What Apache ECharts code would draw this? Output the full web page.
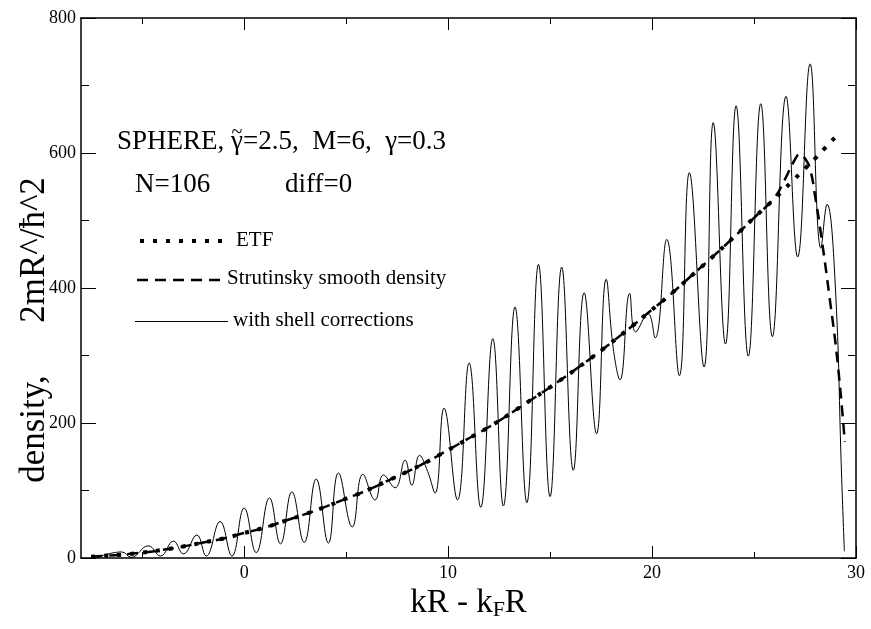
<!DOCTYPE html>
<html>
<head>
<meta charset="utf-8">
<script src="https://cdn.jsdelivr.net/npm/echarts@6/dist/echarts.min.js"></script>
<style>html,body{margin:0;padding:0;background:#fff}#c{width:871px;height:629px}</style>
</head>
<body>
<div id="c"></div>
<script>
// ---- data ----
var xMajorTicks = [0, 10, 20, 30];
var xMinorTicks = [-5, 5, 15, 25];
var yTickLabels = [0, 200, 400, 600, 800];

// ETF (smooth Thomas-Fermi) density
var etfX = [-7.5,-7,-6,-5,-4,-3,-2,-1,0,1,2,3,4,5,6,7,8,9,10,11,12,13,14,15,16,17,18,19,20,21,22,23,24,25,26,26.5,27,27.5,28,28.5,29,29.25];
var etfY = [2,3,5,8,12,17,23,29,37,45,55,65,76,88,100,114,128,143,160,177,194,213,233,253,274,296,319,343,368,393,420,447,475,504,532,547,562,577,592,608,624,632];

// Strutinsky smooth density
var strX = [-7.5,-7,-6,-5,-4,-3,-2,-1,0,1,2,3,4,5,6,7,8,9,10,11,12,13,14,15,16,17,18,19,20,21,22,23,24,25,26,26.5,27,27.25,27.5,27.75,28,28.3,28.7,29.1,29.45];
var strY = [2,3,5,8,12,17,23,29,37,45,55,65,76,88,100,114,128,143,160,177,194,213,233,253,274,296,319,343,368,393,420,447,475,504,534,560,590,598,592,576,535,476,387,289,172];

// density with shell corrections
var shX = [-7.2,-6.0,-5.55,-4.7,-4.1,-3.47,-2.98,-2.32,-1.86,-1.18,-0.6,0.0,0.59,1.24,1.78,2.34,2.94,3.53,4.13,4.62,5.3,5.82,6.42,6.83,7.4,7.89,8.22,8.6,9.0,9.36,9.8,10.46,11.03,11.6,12.19,12.71,13.28,13.86,14.43,15.0,15.57,16.14,16.67,17.28,17.75,18.1,18.43,18.9,19.2,19.8,20.15,20.72,21.34,21.83,22.55,23.0,23.6,24.12,24.72,25.33,25.9,26.57,27.14,27.75,28.28,28.58,28.97,29.3,29.43];
var shY = [1,9,1,18,3,25,6,34,3,54,3,74,8,89,21,98,23,117,22,126,46,124,86,123,104,145,108,152,128,96,222,86,289,75,325,77,372,82,435,91,431,130,393,184,413,310,264,392,335,362,326,472,270,571,283,645,317,670,299,673,328,684,446,732,459,524,412,116,10];

function pairs(xs, ys) { return xs.map(function (x, i) { return [x, ys[i]]; }); }

var FONT = '"Liberation Serif", "Times New Roman", serif';
var chart = echarts.init(document.getElementById('c'), null, {renderer: 'canvas'});

function xAx(pos, ticks, len, showLine, showLabel) {
  return {
    type: 'value', position: pos, min: -8, max: 30,
    axisLine: {show: showLine, onZero: false, lineStyle: {color: '#000', width: 1.5}},
    axisTick: {show: true, inside: true, length: len, customValues: ticks, lineStyle: {color: '#000', width: 1}},
    axisLabel: {show: showLabel, customValues: xMajorTicks, color: '#000', fontFamily: FONT, fontSize: 18, margin: 6},
    splitLine: {show: false}
  };
}

var option = {
  animation: false,
  backgroundColor: '#fff',
  grid: {left: 81, right: 15, top: 18, bottom: 71},
  xAxis: [
    Object.assign(xAx('bottom', xMajorTicks, 12, true, true), {
      name: 'kR - k{sub|F}R', nameLocation: 'middle', nameGap: 24,
      nameTextStyle: {color: '#000', fontFamily: FONT, fontSize: 33,
        rich: {sub: {fontFamily: FONT, fontSize: 22, color: '#000', padding: [14, 0, 0, 0]}}}
    }),
    xAx('bottom', xMinorTicks, 6, false, false),
    xAx('top', xMajorTicks, 12, true, false),
    xAx('top', xMinorTicks, 6, false, false)
  ],
  yAxis: [
    {
      type: 'value', position: 'left', min: 0, max: 800, interval: 200,
      axisLine: {show: true, onZero: false, lineStyle: {color: '#000', width: 1.5}},
      axisTick: {show: true, inside: true, length: 15, lineStyle: {color: '#000', width: 1}},
      minorTick: {show: true, splitNumber: 2, length: 8, lineStyle: {color: '#000', width: 1}},
      axisLabel: {color: '#000', fontFamily: FONT, fontSize: 18, margin: 5},
      splitLine: {show: false}, minorSplitLine: {show: false}
    },
    {
      type: 'value', position: 'right', min: 0, max: 800, interval: 200,
      axisLine: {show: true, onZero: false, lineStyle: {color: '#000', width: 1.5}},
      axisTick: {show: true, inside: true, length: 15, lineStyle: {color: '#000', width: 1}},
      minorTick: {show: true, splitNumber: 2, length: 8, lineStyle: {color: '#000', width: 1}},
      axisLabel: {show: false},
      splitLine: {show: false}, minorSplitLine: {show: false}
    }
  ],
  series: [
    {
      name: 'ETF', type: 'line', xAxisIndex: 0, yAxisIndex: 0, showSymbol: false, smooth: true,
      data: pairs(etfX, etfY),
      lineStyle: {color: '#000', width: 4, type: [4, 9]}
    },
    {
      name: 'Strutinsky smooth density', type: 'line', xAxisIndex: 0, yAxisIndex: 0, showSymbol: false, smooth: true,
      data: pairs(strX, strY),
      lineStyle: {color: '#000', width: 2.5, type: [11, 7]}
    },
    {
      name: 'with shell corrections', type: 'line', xAxisIndex: 0, yAxisIndex: 0, showSymbol: false, smooth: 0.45,
      data: pairs(shX, shY),
      lineStyle: {color: '#000', width: 1}
    }
  ],
  graphic: [
    {type: 'text', x: 35, y: 330, rotation: Math.PI / 2,
      style: {text: 'density,      2mR^/\u0127^2', font: '35px ' + FONT, fill: '#000', align: 'center', verticalAlign: 'middle'}},
    {type: 'text', left: 117, top: 128, style: {text: 'SPHERE, \u03b3=2.5,  M=6,  \u03b3=0.3', font: '27px ' + FONT, fill: '#000'}},
    {type: 'text', x: 237, y: 133, style: {text: '~', font: '20px ' + FONT, fill: '#000', align: 'center', verticalAlign: 'middle'}},
    {type: 'text', left: 135, top: 171, style: {text: 'N=106', font: '27px ' + FONT, fill: '#000'}},
    {type: 'text', left: 285, top: 171, style: {text: 'diff=0', font: '27px ' + FONT, fill: '#000'}},
    {type: 'line', shape: {x1: 140, y1: 241, x2: 230, y2: 241}, style: {stroke: '#000', lineWidth: 4, lineDash: [4, 9]}},
    {type: 'text', left: 236, top: 230, style: {text: 'ETF', font: '21px ' + FONT, fill: '#000'}},
    {type: 'line', shape: {x1: 137, y1: 280, x2: 223, y2: 280}, style: {stroke: '#000', lineWidth: 2.5, lineDash: [11, 7]}},
    {type: 'text', left: 227, top: 268, style: {text: 'Strutinsky smooth density', font: '21px ' + FONT, fill: '#000'}},
    {type: 'line', shape: {x1: 135, y1: 321.5, x2: 228, y2: 321.5}, style: {stroke: '#000', lineWidth: 1}},
    {type: 'text', left: 233, top: 310, style: {text: 'with shell corrections', font: '21px ' + FONT, fill: '#000'}}
  ]
};
chart.setOption(option);
</script>
</body>
</html>
